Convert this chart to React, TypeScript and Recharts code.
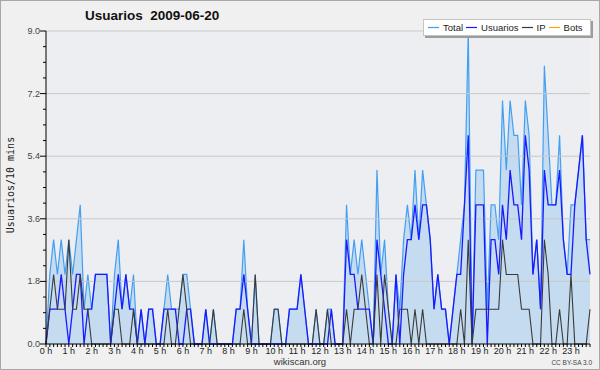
import React from "react";
import {
  ComposedChart,
  Area,
  Line,
  XAxis,
  YAxis,
  CartesianGrid,
  ReferenceLine,
} from "recharts";

// one value per 10 minutes, 144 slots in the day
const USUARIOS = [
  0, 1, 1, 1, 2, 1, 0, 1, 2, 2, 0, 1, 1, 2, 2, 2, 2, 0, 1, 2, 1, 2, 1, 1,
  0, 1, 0, 1, 1, 0, 0, 1, 1, 1, 1, 0, 0, 1, 1, 0, 0, 0, 1, 0, 0, 0, 0, 0,
  0, 0, 1, 1, 2, 1, 0, 0, 0, 0, 0, 0, 0, 0, 0, 0, 1, 1, 1, 2, 1, 0, 0, 0,
  0, 0, 0, 1, 0, 0, 0, 3, 2, 2, 1, 1, 1, 1, 0, 3, 2, 1, 0, 0, 2, 0, 2, 3,
  3, 4, 3, 4, 4, 3, 1, 2, 1, 1, 0, 1, 2, 2, 4, 6, 0, 4, 4, 4, 0, 3, 3, 2,
  4, 3, 5, 4, 4, 3, 6, 5, 2, 3, 1, 5, 4, 4, 4, 5, 3, 2, 2, 4, 5, 6, 3, 2,
];

const IP = [
  0, 1, 2, 1, 1, 1, 3, 1, 1, 2, 1, 1, 0, 0, 0, 0, 0, 0, 1, 1, 0, 0, 0, 1,
  0, 0, 0, 0, 0, 0, 0, 0, 1, 0, 0, 1, 2, 1, 0, 0, 0, 0, 0, 0, 1, 0, 0, 0,
  0, 0, 0, 0, 1, 0, 0, 2, 0, 0, 0, 0, 1, 1, 0, 0, 0, 0, 0, 0, 0, 0, 0, 1,
  0, 0, 1, 0, 0, 0, 0, 1, 0, 1, 1, 2, 1, 0, 0, 2, 0, 2, 1, 0, 0, 1, 1, 1,
  0, 1, 0, 1, 0, 0, 0, 0, 0, 0, 0, 0, 0, 1, 0, 3, 0, 1, 1, 1, 1, 1, 1, 1,
  3, 2, 2, 2, 2, 1, 1, 1, 0, 0, 0, 3, 2, 0, 0, 1, 0, 0, 2, 0, 0, 0, 0, 1,
];

const TOTAL = [
  0, 2, 3, 2, 3, 2, 3, 2, 3, 4, 1, 2, 1, 2, 2, 2, 2, 0, 2, 3, 1, 2, 1, 2,
  0, 1, 0, 1, 1, 0, 0, 1, 2, 1, 1, 1, 2, 2, 1, 0, 0, 0, 1, 0, 1, 0, 0, 0,
  0, 0, 1, 1, 3, 1, 0, 2, 0, 0, 0, 0, 1, 1, 0, 0, 1, 1, 1, 2, 1, 0, 0, 1,
  0, 0, 1, 1, 0, 0, 0, 4, 2, 3, 2, 3, 2, 1, 0, 5, 2, 3, 1, 0, 2, 1, 3, 4,
  3, 5, 3, 5, 4, 3, 1, 2, 1, 1, 0, 1, 2, 3, 4, 9, 0, 5, 5, 5, 1, 4, 4, 3,
  7, 5, 7, 6, 6, 4, 7, 6, 2, 3, 1, 8, 6, 4, 4, 6, 3, 2, 4, 4, 5, 6, 3, 3,
];

const HOURS = [
  "0 h", "1 h", "2 h", "3 h", "4 h", "5 h", "6 h", "7 h", "8 h", "9 h", "10 h", "11 h",
  "12 h", "13 h", "14 h", "15 h", "16 h", "17 h", "18 h", "19 h", "20 h", "21 h", "22 h", "23 h",
];

const Y_TICKS = [
  0, 0.45, 0.9, 1.35, 1.8, 2.25, 2.7, 3.15, 3.6, 4.05, 4.5, 4.95, 5.4, 5.85, 6.3, 6.75, 7.2,
  7.65, 8.1, 8.55, 9,
];
const GRID_VALUES = [1.8, 3.6, 5.4, 7.2, 9];

const LEGEND = [
  { label: "Total", color: "#3f9cf0" },
  { label: "Usuarios", color: "#1a1aff" },
  { label: "IP", color: "#3a3a3a" },
  { label: "Bots", color: "#ffa500" },
];

const data = USUARIOS.map((u, i) => ({ t: i, usuarios: u, ip: IP[i], total: TOTAL[i] }));
const xTicks = data.map((d) => d.t);

const tickFont = { fontFamily: "'Liberation Sans', Arial, sans-serif", fontSize: 9, fill: "#222" };

const XTick = (props: any) => {
  const { x, y, payload } = props;
  const v = payload.value as number;
  return (
    <g>
      <line x1={x} x2={x} y1={y} y2={y + 3} stroke="#000" strokeWidth={1} />
      {v % 6 === 0 && (
        <text x={x} y={y + 10} textAnchor="middle" style={tickFont}>
          {HOURS[v / 6]}
        </text>
      )}
    </g>
  );
};

const YTick = (props: any) => {
  const { x, y, payload } = props;
  const v = payload.value as number;
  const major = Math.abs(v / 1.8 - Math.round(v / 1.8)) < 1e-6;
  return (
    <g>
      <line x1={major ? x - 6 : x - 3} x2={x} y1={y} y2={y} stroke="#000" strokeWidth={1} />
      {major && (
        <text x={x - 6} y={y + 3} textAnchor="end" style={{ ...tickFont, fill: "#444" }}>
          {v.toFixed(1)}
        </text>
      )}
    </g>
  );
};

export default function App() {
  return (
    <div
      style={{
        position: "absolute",
        left: 0,
        top: 0,
        width: 600,
        height: 370,
        background: "#f0f0f0",
        fontFamily: "'Liberation Sans', Arial, sans-serif",
        overflow: "hidden",
      }}
    >
      <ComposedChart
        width={600}
        height={370}
        data={data}
        margin={{ top: 31, right: 10, bottom: 6, left: 0 }}
      >
        <CartesianGrid horizontal={false} vertical={false} fill="#eceef1" />
        {GRID_VALUES.map((v) => (
          <ReferenceLine key={v} y={v} stroke="#c9c9c9" strokeWidth={1} />
        ))}
        <XAxis
          type="number"
          dataKey="t"
          domain={[0, 143]}
          ticks={xTicks}
          interval={0}
          tick={XTick}
          tickLine={false}
          tickSize={0}
          tickMargin={0}
          height={20}
          axisLine={{ stroke: "#000" }}
        />
        <YAxis
          domain={[0, 9]}
          ticks={Y_TICKS}
          interval={0}
          tick={YTick}
          tickLine={false}
          tickSize={0}
          tickMargin={0}
          width={46}
          axisLine={{ stroke: "#000" }}
        />
        <Area
          type="linear"
          dataKey="total"
          stroke="#449ff2"
          strokeWidth={1.2}
          fill="#c4dbf0"
          fillOpacity={1}
          dot={false}
          activeDot={false}
          isAnimationActive={false}
        />
        <Line
          type="linear"
          dataKey="usuarios"
          stroke="#1a1aff"
          strokeWidth={1.3}
          dot={false}
          activeDot={false}
          isAnimationActive={false}
        />
        <Line
          type="linear"
          dataKey="ip"
          stroke="#3a3a3a"
          strokeWidth={1.1}
          dot={false}
          activeDot={false}
          isAnimationActive={false}
        />
      </ComposedChart>

      <div
        style={{
          position: "absolute",
          left: 85,
          top: 8,
          fontSize: 13.5,
          fontWeight: "bold",
          color: "#111",
          whiteSpace: "pre",
        }}
      >
        {"Usuarios  2009-06-20"}
      </div>

      <div
        style={{
          position: "absolute",
          left: 10,
          top: 185,
          transform: "translate(-50%, -50%) rotate(-90deg)",
          fontFamily: "'DejaVu Sans Mono', monospace",
          fontSize: 10,
          color: "#222",
          whiteSpace: "nowrap",
        }}
      >
        Usuarios/10 mins
      </div>

      <div
        style={{
          position: "absolute",
          left: 423,
          top: 19,
          width: 168,
          height: 17,
          background: "#fff",
          border: "1px solid #c4c4c4",
          boxShadow: "2px 2px 0 #9c9c9c",
          display: "flex",
          alignItems: "center",
          fontSize: 9.5,
          color: "#222",
          paddingLeft: 4,
          boxSizing: "border-box",
          whiteSpace: "nowrap",
        }}
      >
        {LEGEND.map((item) => (
          <span key={item.label} style={{ display: "flex", alignItems: "center", marginRight: 3 }}>
            <svg width={11} height={3} style={{ marginRight: 4 }}>
              <line x1={0} x2={11} y1={1.5} y2={1.5} stroke={item.color} strokeWidth={1.2} />
            </svg>
            {item.label}
          </span>
        ))}
      </div>

      <div
        style={{
          position: "absolute",
          left: 0,
          width: 600,
          top: 357,
          lineHeight: "10px",
          textAlign: "center",
          fontSize: 9.5,
          color: "#333",
        }}
      >
        wikiscan.org
      </div>
      <div
        style={{
          position: "absolute",
          right: 8,
          top: 359,
          lineHeight: "8px",
          fontSize: 6.5,
          color: "#444",
        }}
      >
        CC BY-SA 3.0
      </div>

      <div
        style={{
          position: "absolute",
          left: 0,
          top: 0,
          width: 600,
          height: 370,
          border: "1px solid #a8a8a8",
          boxSizing: "border-box",
          pointerEvents: "none",
        }}
      />
    </div>
  );
}
